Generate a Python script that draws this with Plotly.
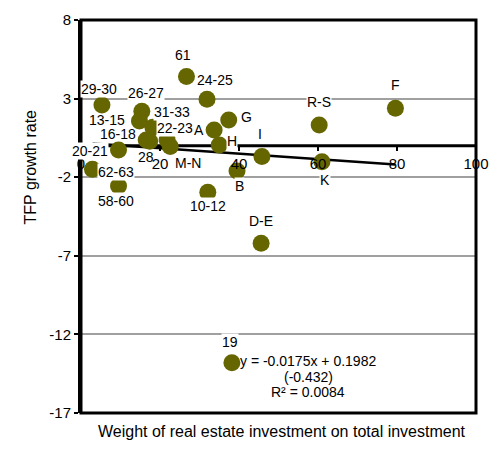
import plotly.graph_objects as go

# ---- data ----
sectors = ["29-30", "26-27", "13-15", "31-33", "16-18", "28", "22-23", "M-N",
           "61", "24-25", "10-12", "A", "H", "G", "19", "B", "D-E", "I", "R-S",
           "K", "F", "20-21", "62-63", "58-60"]
weight = [5.3, 15.4, 14.8, 18.2, 16.5, 17.4, 21.8, 22.6,
          26.7, 31.9, 32.1, 33.7, 35.0, 37.4, 38.2, 39.5, 45.6, 45.8, 60.3,
          61.0, 79.6, 9.5, 2.9, 9.5]
tfp = [2.6, 2.2, 1.58, 1.18, 0.37, 0.28, 0.37, -0.04,
       4.4, 2.96, -2.96, 1.0, 0.05, 1.64, -13.8, -1.6, -6.2, -0.69, 1.32,
       -1.01, 2.38, -0.27, -1.49, -2.56]
slope = -0.0175
intercept = 0.1982
eq_lines = ["y = -0.0175x + 0.1982", "(-0.432)", "R² = 0.0084"]
x_ticks = [0, 20, 40, 60, 80, 100]
y_ticks = [-17, -12, -7, -2, 3, 8]

# ---- label placement (pixel offsets of label centre from point centre) ----
label_offsets = {
    "29-30": (-3, -16), "26-27": (4, -18), "13-15": (-32, -1), "31-33": (19, -15),
    "16-18": (-28, -6), "28": (-4, 16), "22-23": (8, -12),
    "M-N": (18, 17), "61": (-3, -22), "24-25": (8, -19), "10-12": (0, 14),
    "A": (-15, 0), "H": (13, -4), "G": (18, -3), "19": (-2, -21), "B": (2, 15),
    "D-E": (0, -22), "I": (-2, -23), "R-S": (0, -23), "K": (3, 18), "F": (0, -23),
    "20-21": (-29, 1), "62-63": (24, 3), "58-60": (-3, 15),
}
no_box = {"13-15", "16-18", "28"}

FONT = "Liberation Sans, Arial, sans-serif"
OLIVE = "#666600"

fig = go.Figure()

xmin, xmax = min(weight), max(weight)
fig.add_trace(go.Scatter(
    x=[xmin, xmax], y=[slope * xmin + intercept, slope * xmax + intercept],
    mode="lines", line=dict(color="black", width=2.5), hoverinfo="skip"))

fig.add_trace(go.Scatter(
    x=weight, y=tfp, mode="markers",
    marker=dict(size=17, color=OLIVE, line=dict(width=0))))

annotations = []
for name, xv, yv in zip(sectors, weight, tfp):
    dx, dy = label_offsets[name]
    annotations.append(dict(
        x=xv, y=yv, xref="x", yref="y", text=name, showarrow=False,
        xshift=dx, yshift=-dy, borderpad=0,
        bgcolor="rgba(0,0,0,0)" if name in no_box else "white",
        font=dict(family=FONT, size=14, color="black")))

# regression equation text
eq_x = 57.5
for i, line in enumerate(eq_lines):
    annotations.append(dict(
        x=eq_x, y=-14.69, xref="x", yref="y", text=line, showarrow=False,
        yshift=15.7 * (1 - i), font=dict(family=FONT, size=14, color="black")))

annotations.append(dict(
    x=-0.152, y=0.626, xref="paper", yref="paper", text="TFP growth rate",
    textangle=-90, showarrow=False, font=dict(family=FONT, size=16, color="black")))
annotations.append(dict(
    x=0.508, y=-0.073, xref="paper", yref="paper",
    text="Weight of real estate investment on total investment",
    showarrow=False, font=dict(family=FONT, size=16, color="black")))

fig.update_layout(
    template="none",
    width=492, height=455,
    margin=dict(l=81, r=16, t=20, b=42, autoexpand=False),
    paper_bgcolor="white", plot_bgcolor="white",
    showlegend=False,
    annotations=annotations,
    font=dict(family=FONT, color="black"),
    shapes=[
        dict(type="line", xref="paper", yref="y", x0=0, x1=1, y0=0, y1=0,
             line=dict(color="black", width=3), layer="below"),
        dict(type="rect", xref="paper", yref="paper", x0=0, y0=0, x1=1, y1=1,
             line=dict(color="black", width=3), layer="above"),
    ],
    xaxis=dict(range=[0, 100], tickvals=x_ticks, ticktext=[str(v) for v in x_ticks],
               showgrid=False, zeroline=False, showline=False,
               ticks="outside", ticklen=4, tickwidth=2, tickcolor="black",
               anchor="free", position=17 / 25, automargin=False,
               tickfont=dict(family=FONT, size=15, color="black")),
    yaxis=dict(range=[-17, 8], tickvals=y_ticks, ticktext=[str(v) for v in y_ticks],
               showgrid=True, gridcolor="#a0a0a0", gridwidth=2, zeroline=False,
               showline=True, linecolor="black", linewidth=3, automargin=False,
               ticks="outside", ticklen=4, tickwidth=2, tickcolor="black",
               tickfont=dict(family=FONT, size=15, color="black")),
)

fig.write_html("out.html", config={"displayModeBar": False},
               post_script="document.body.style.margin='0';"
                           "document.body.style.overflow='hidden';")
